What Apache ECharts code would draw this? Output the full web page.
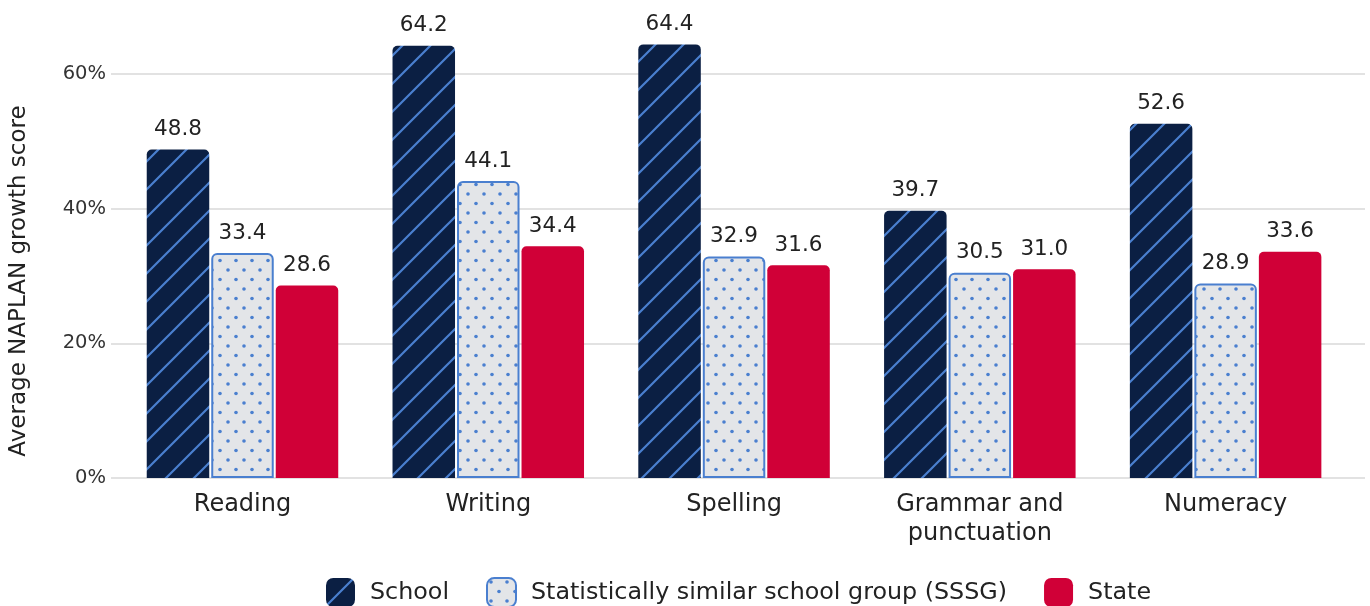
<!DOCTYPE html>
<html>
<head>
<meta charset="utf-8">
<script src="https://cdn.jsdelivr.net/npm/echarts@6/dist/echarts.min.js"></script>
<style>
html,body{margin:0;padding:0;background:#fff;}
#chart{width:1370px;height:606px;}
</style>
</head>
<body>
<div id="chart"></div>
<script>
const categories = ['Reading', 'Writing', 'Spelling', 'Grammar and\npunctuation', 'Numeracy'];
const schoolValues = [48.8, 64.2, 64.4, 39.7, 52.6];
const sssgValues = [33.4, 44.1, 32.9, 30.5, 28.9];
const stateValues = [28.6, 34.4, 31.6, 31.0, 33.6];
const seriesNames = ['School', 'Statistically similar school group (SSSG)', 'State'];
const yTicks = [0, 20, 40, 60];

const FONT = 'DejaVu Sans';
const NAVY = '#0b1f43';
const BLUE = '#4a7fcf';
const RED = '#d00037';
const LIGHT = '#e3e5e8';

function stripeCanvas() {
  const s = 28;
  const c = document.createElement('canvas');
  c.width = s; c.height = s;
  const g = c.getContext('2d');
  g.fillStyle = NAVY; g.fillRect(0, 0, s, s);
  g.strokeStyle = BLUE; g.lineWidth = 2.2;
  g.beginPath();
  g.moveTo(-2, s + 2); g.lineTo(s + 2, -2);
  g.moveTo(-2, 2); g.lineTo(2, -2);
  g.moveTo(s - 2, s + 2); g.lineTo(s + 2, s - 2);
  g.stroke();
  return c;
}
function dotCanvas() {
  const w = 16, h = 19;
  const c = document.createElement('canvas');
  c.width = w; c.height = h;
  const g = c.getContext('2d');
  g.fillStyle = LIGHT; g.fillRect(0, 0, w, h);
  g.fillStyle = BLUE;
  g.beginPath(); g.arc(4, 4, 1.8, 0, Math.PI * 2); g.fill();
  g.beginPath(); g.arc(12, 13.5, 1.8, 0, Math.PI * 2); g.fill();
  return c;
}

const chart = echarts.init(document.getElementById('chart'), null, {renderer: 'canvas'});
const labelCfg = {
  show: true, position: 'top', distance: 9,
  fontFamily: FONT, fontSize: 21.5, color: '#222',
  formatter: p => p.value.toFixed(1)
};
chart.setOption({
  backgroundColor: '#fff',
  animation: false,
  textStyle: {fontFamily: FONT},
  grid: [
    {left: 110, right: 5, top: 74, bottom: 128, containLabel: false},
    {left: 119.6, right: 21.5, top: 6.67, bottom: 128, containLabel: false}
  ],
  xAxis: [
    {type: 'value', gridIndex: 0, show: false, min: 0, max: 1},
    {type: 'category', gridIndex: 1, data: categories,
     axisLine: {show: false}, axisTick: {show: false},
     axisLabel: {fontFamily: FONT, fontSize: 24, color: '#222', margin: 12, lineHeight: 29}}
  ],
  yAxis: [
    {type: 'value', gridIndex: 0, min: yTicks[0], max: yTicks[yTicks.length - 1], interval: 20,
     name: 'Average NAPLAN growth score', nameLocation: 'middle', nameGap: 80,
     nameTextStyle: {fontFamily: FONT, fontSize: 23, color: '#222', padding: [0, 10, 0, 0]},
     axisLine: {show: false}, axisTick: {show: false},
     axisLabel: {formatter: '{value}%', fontFamily: FONT, fontSize: 19.5, color: '#333', margin: 5},
     splitLine: {show: true, lineStyle: {color: '#e2e2e2', width: 2}}},
    {type: 'value', gridIndex: 1, min: 0, max: 70, show: false, splitLine: {show: false}}
  ],
  legend: {
    bottom: -7, left: 321,
    itemWidth: 29, itemHeight: 29, itemGap: 37,
    icon: 'roundRect',
    textStyle: {fontFamily: FONT, fontSize: 23.8, color: '#222', padding: [0, 0, 0, 10]},
    data: seriesNames
  },
  series: [
    {name: seriesNames[0], type: 'bar', xAxisIndex: 1, yAxisIndex: 1, data: schoolValues,
     barWidth: 62.5, barGap: '3.2%',
     itemStyle: {color: {image: stripeCanvas(), repeat: 'repeat'}, borderRadius: [5, 5, 0, 0]},
     label: labelCfg},
    {name: seriesNames[1], type: 'bar', xAxisIndex: 1, yAxisIndex: 1, data: sssgValues,
     barWidth: 62.5, barGap: '3.2%',
     itemStyle: {color: {image: dotCanvas(), repeat: 'repeat'}, borderColor: BLUE, borderWidth: 2, borderRadius: [5, 5, 0, 0]},
     label: labelCfg},
    {name: seriesNames[2], type: 'bar', xAxisIndex: 1, yAxisIndex: 1, data: stateValues,
     barWidth: 62.5, barGap: '3.2%',
     itemStyle: {color: RED, borderRadius: [5, 5, 0, 0]},
     label: labelCfg}
  ]
});
</script>
</body>
</html>
